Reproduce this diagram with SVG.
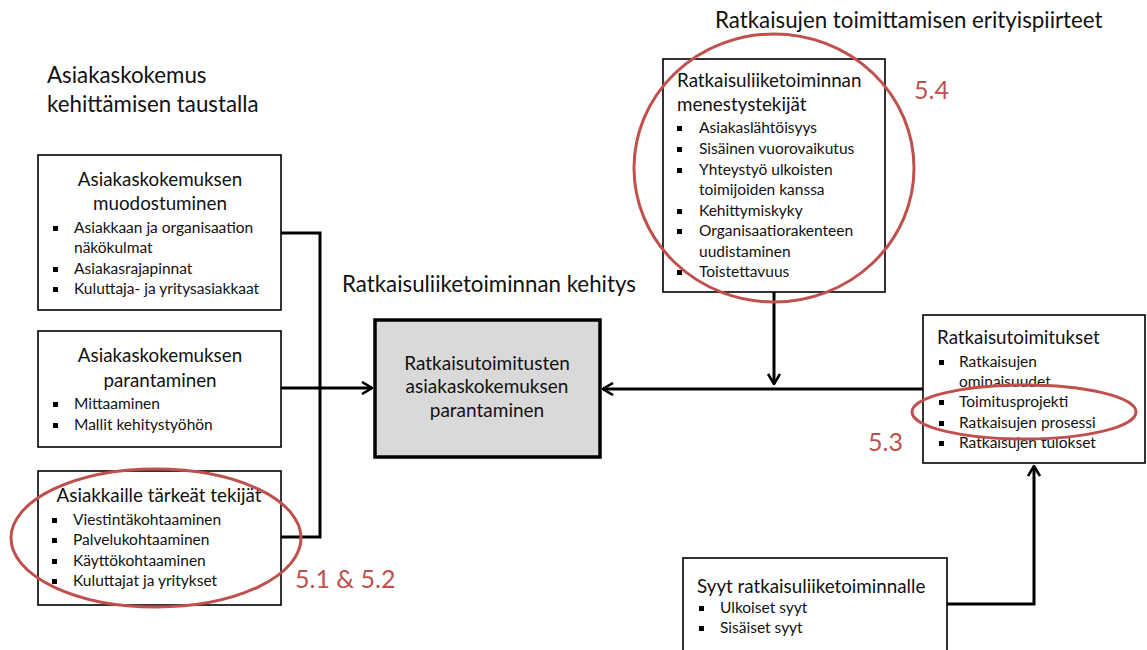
<svg xmlns="http://www.w3.org/2000/svg" width="1147" height="650" viewBox="0 0 1147 650">
  <style>
    text { font-family: Lato, "Open Sans", "Liberation Sans", sans-serif; fill: #111; }
    .head { font-size: 22.3px; }
    .title { font-size: 18.8px; }
    .core-text { font-size: 19px; }
    .item { font-size: 15.5px; }
    .mid { text-anchor: middle; }
    .box { fill: #fff; stroke: #000; stroke-width: 1.6; }
    .core { fill: #d9d9d9; stroke: #000; stroke-width: 3.5; }
    .bul { fill: #000; }
    .wire { fill: none; stroke: #000; stroke-width: 3; }
    .ring { fill: none; stroke: #c0504d; stroke-width: 3; }
    .tag { font-size: 25px; fill: #c0504d; }
  </style>
  <defs>
    <marker id="arrow" viewBox="0 0 12 14" refX="11" refY="7" markerWidth="12" markerHeight="14" markerUnits="userSpaceOnUse" orient="auto">
      <path d="M1,1 L11,7 L1,13" fill="none" stroke="#000" stroke-width="2.6" stroke-linejoin="miter"/>
    </marker>
  </defs>

  <rect width="1147" height="650" fill="#fff"/>

  <!-- section headings -->
  <text class="head" x="47" y="83">Asiakaskokemus</text>
  <text class="head" x="47" y="112">kehittämisen taustalla</text>
  <text class="head" x="342" y="292">Ratkaisuliiketoiminnan kehitys</text>
  <text class="head" x="715" y="28">Ratkaisujen toimittamisen erityispiirteet</text>

  <!-- connectors -->
  <g id="connectors">
    <polyline class="wire" points="281,233 320,233 320,537 281,537"/>
    <line class="wire" x1="281" y1="388" x2="372" y2="388" marker-end="url(#arrow)"/>
    <line class="wire" x1="923" y1="389" x2="603" y2="389" marker-end="url(#arrow)"/>
    <line class="wire" x1="774" y1="292" x2="774" y2="384" marker-end="url(#arrow)"/>
    <polyline class="wire" points="947,604 1034,604 1034,466" marker-end="url(#arrow)"/>
  </g>

  <!-- left column -->
  <g id="muodostuminen">
    <rect class="box" x="38" y="155" width="243" height="155"/>
    <text class="title mid" x="160" y="186">Asiakaskokemuksen</text>
    <text class="title mid" x="160" y="210">muodostuminen</text>
    <rect class="bul" x="53" y="226" width="5" height="5"/>
    <text class="item" x="74" y="233">Asiakkaan ja organisaation</text>
    <text class="item" x="74" y="253">näkökulmat</text>
    <rect class="bul" x="53" y="267" width="5" height="5"/>
    <text class="item" x="74" y="274">Asiakasrajapinnat</text>
    <rect class="bul" x="53" y="287" width="5" height="5"/>
    <text class="item" x="74" y="294">Kuluttaja- ja yritysasiakkaat</text>
  </g>

  <g id="parantaminen">
    <rect class="box" x="38" y="331" width="243" height="116"/>
    <text class="title mid" x="160" y="362">Asiakaskokemuksen</text>
    <text class="title mid" x="160" y="387">parantaminen</text>
    <rect class="bul" x="53" y="402" width="5" height="5"/>
    <text class="item" x="74" y="409">Mittaaminen</text>
    <rect class="bul" x="53" y="423" width="5" height="5"/>
    <text class="item" x="74" y="430">Mallit kehitystyöhön</text>
  </g>

  <g id="tekijat">
    <rect class="box" x="38" y="471" width="243" height="134"/>
    <text class="title mid" x="159" y="502">Asiakkaille tärkeät tekijät</text>
    <rect class="bul" x="52" y="518" width="5" height="5"/>
    <text class="item" x="73" y="525">Viestintäkohtaaminen</text>
    <rect class="bul" x="52" y="538" width="5" height="5"/>
    <text class="item" x="73" y="545">Palvelukohtaaminen</text>
    <rect class="bul" x="52" y="559" width="5" height="5"/>
    <text class="item" x="73" y="566">Käyttökohtaaminen</text>
    <rect class="bul" x="52" y="579" width="5" height="5"/>
    <text class="item" x="73" y="586">Kuluttajat ja yritykset</text>
  </g>

  <!-- centre -->
  <g id="ydin">
    <rect class="core" x="375" y="320" width="225" height="137"/>
    <text class="core-text mid" x="487" y="370">Ratkaisutoimitusten</text>
    <text class="core-text mid" x="487" y="393">asiakaskokemuksen</text>
    <text class="core-text mid" x="487" y="417">parantaminen</text>
  </g>

  <!-- right side -->
  <g id="menestystekijat">
    <rect class="box" x="663" y="59" width="222" height="233"/>
    <text class="title" x="677" y="87">Ratkaisuliiketoiminnan</text>
    <text class="title" x="677" y="111">menestystekijät</text>
    <rect class="bul" x="677" y="126" width="5" height="5"/>
    <text class="item" x="699" y="133">Asiakaslähtöisyys</text>
    <rect class="bul" x="677" y="147" width="5" height="5"/>
    <text class="item" x="699" y="154">Sisäinen vuorovaikutus</text>
    <rect class="bul" x="677" y="168" width="5" height="5"/>
    <text class="item" x="699" y="175">Yhteystyö ulkoisten</text>
    <text class="item" x="699" y="195">toimijoiden kanssa</text>
    <rect class="bul" x="677" y="209" width="5" height="5"/>
    <text class="item" x="699" y="216">Kehittymiskyky</text>
    <rect class="bul" x="677" y="229" width="5" height="5"/>
    <text class="item" x="699" y="236">Organisaatiorakenteen</text>
    <text class="item" x="699" y="257">uudistaminen</text>
    <rect class="bul" x="677" y="270" width="5" height="5"/>
    <text class="item" x="699" y="277">Toistettavuus</text>
  </g>

  <g id="ratkaisutoimitukset">
    <rect class="box" x="923" y="315" width="222" height="148"/>
    <text class="title" x="937" y="344">Ratkaisutoimitukset</text>
    <rect class="bul" x="939" y="360" width="5" height="5"/>
    <text class="item" x="959" y="367">Ratkaisujen</text>
    <text class="item" x="959" y="387">ominaisuudet</text>
    <rect class="bul" x="939" y="400" width="5" height="5"/>
    <text class="item" x="959" y="407">Toimitusprojekti</text>
    <rect class="bul" x="939" y="421" width="5" height="5"/>
    <text class="item" x="959" y="428">Ratkaisujen prosessi</text>
    <rect class="bul" x="939" y="441" width="5" height="5"/>
    <text class="item" x="959" y="448">Ratkaisujen tulokset</text>
  </g>

  <g id="syyt">
    <rect class="box" x="683" y="558" width="264" height="100"/>
    <text class="title" x="697" y="593">Syyt ratkaisuliiketoiminnalle</text>
    <rect class="bul" x="699" y="606" width="5" height="5"/>
    <text class="item" x="720" y="613">Ulkoiset syyt</text>
    <rect class="bul" x="699" y="626" width="5" height="5"/>
    <text class="item" x="720" y="633">Sisäiset syyt</text>
  </g>

  <!-- highlighted chapters -->
  <g id="luvut">
    <ellipse class="ring" cx="156" cy="538" rx="145" ry="69"/>
    <text class="tag" x="295" y="588">5.1 &amp; 5.2</text>
    <ellipse class="ring" cx="1024" cy="412" rx="112" ry="27"/>
    <text class="tag" x="868" y="451">5.3</text>
    <ellipse class="ring" cx="774" cy="168" rx="140" ry="134"/>
    <text class="tag" x="914" y="99">5.4</text>
  </g>
</svg>
